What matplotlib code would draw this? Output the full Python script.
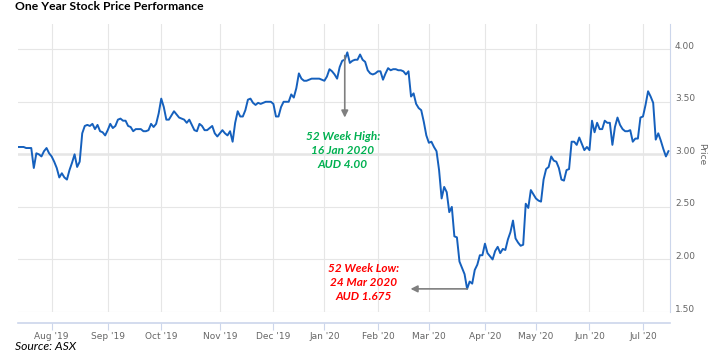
import numpy as np
import matplotlib
matplotlib.use('Agg')
import matplotlib.pyplot as plt
import matplotlib.transforms as mtransforms

# Daily closing price, one value per trading day from mid Jul 2019
prices = [3.07, 3.07, 3.07, 3.06, 3.06, 3.06, 2.87, 3.01, 3.00, 2.98,
          3.03, 3.06, 3.01, 2.98, 2.93, 2.87, 2.78, 2.82, 2.78, 2.76,
          2.85, 2.92, 3.00, 2.88, 2.93, 3.20, 3.27, 3.28, 3.27, 3.29,
          3.24, 3.28, 3.22, 3.21, 3.18, 3.23, 3.29, 3.25, 3.27, 3.33,
          3.34, 3.32, 3.32, 3.27, 3.26, 3.22, 3.24, 3.24, 3.24, 3.22,
          3.22, 3.23, 3.29, 3.26, 3.29, 3.39, 3.53, 3.45, 3.33, 3.33,
          3.37, 3.41, 3.38, 3.35, 3.34, 3.33, 3.30, 3.33, 3.28, 3.23,
          3.22, 3.29, 3.27, 3.23, 3.23, 3.25, 3.27, 3.20, 3.17, 3.20,
          3.23, 3.20, 3.18, 3.22, 3.12, 3.30, 3.41, 3.36, 3.36, 3.42,
          3.52, 3.53, 3.49, 3.47, 3.49, 3.48, 3.49, 3.50, 3.50, 3.50,
          3.48, 3.36, 3.36, 3.45, 3.50, 3.50, 3.50, 3.57, 3.54, 3.63,
          3.77, 3.72, 3.70, 3.70, 3.71, 3.72, 3.72, 3.72, 3.72, 3.71,
          3.70, 3.74, 3.81, 3.79, 3.76, 3.72, 3.83, 3.89, 3.90, 3.97,
          3.87, 3.89, 3.90, 3.90, 3.95, 3.90, 3.88, 3.80, 3.77, 3.76,
          3.77, 3.79, 3.79, 3.71, 3.77, 3.82, 3.80, 3.81, 3.81, 3.80,
          3.80, 3.79, 3.76, 3.79, 3.55, 3.58, 3.48, 3.44, 3.42, 3.31,
          3.18, 3.11, 3.12, 3.07, 3.03, 2.85, 2.58, 2.69, 2.64, 2.45,
          2.50, 2.22, 2.21, 1.98, 1.92, 1.86, 1.72, 1.79, 1.77, 1.90,
          1.95, 2.04, 2.04, 2.15, 2.06, 2.03, 2.00, 2.08, 2.12, 2.06,
          2.10, 2.09, 2.19, 2.26, 2.37, 2.20, 2.16, 2.13, 2.14, 2.53,
          2.49, 2.66, 2.62, 2.58, 2.56, 2.55, 2.76, 2.86, 2.88, 2.98,
          2.94, 2.93, 2.87, 2.76, 2.75, 2.85, 2.86, 3.12, 3.12, 3.09,
          3.16, 3.10, 3.04, 3.07, 3.04, 3.32, 3.21, 3.30, 3.24, 3.24,
          3.32, 3.30, 3.30, 3.09, 3.26, 3.35, 3.28, 3.24, 3.22, 3.22,
          3.23, 3.12, 3.15, 3.15, 3.35, 3.36, 3.47, 3.60, 3.55, 3.49,
          3.14, 3.20, 3.13, 3.05, 2.98, 3.03]
days = np.arange(len(prices))   # trading-day index

month_idx = [13, 35, 56, 79, 100, 120, 141, 161, 183, 203, 224, 245]
month_labels = ["Aug '19", "Sep '19", "Oct '19", "Nov '19", "Dec '19", "Jan '20",
                "Feb '20", "Mar '20", "Apr '20", "May '20", "Jun '20", "Jul '20"]
price_ticks = [1.50, 2.00, 2.50, 3.00, 3.50, 4.00]

high_text = '52 Week High:\n16 Jan 2020\nAUD 4.00'
low_text = '52 Week Low:\n24 Mar 2020\nAUD 1.675'

LINE = '#1560bd'
GRID = '#e6e6e6'
AXIS = '#ccd6eb'
LABEL = '#666666'

fig = plt.figure(figsize=(7.25, 3.56), dpi=100)
ax = fig.add_axes([18/725, 1 - 312/356, (670 - 18)/725, (312 - 24)/356])

ax.plot(days, prices, color=LINE, lw=1.4, zorder=3)

ax.set_xlim(-0.2, 255.6)
ax.set_ylim(1.50, 4.24)

# grid
ax.set_xticks(month_idx)
ax.set_xticklabels(month_labels)
ax.set_yticks(price_ticks)
ax.set_yticklabels(['%.2f' % p for p in price_ticks])
ax.grid(True, color=GRID, lw=0.8, zorder=0)
ax.axhline(3.00, color=GRID, lw=1.8, zorder=1)

for s in ['top', 'left']:
    ax.spines[s].set_visible(False)
ax.spines['right'].set_color(AXIS)
ax.spines['right'].set_linewidth(0.8)
ax.spines['bottom'].set_color(AXIS)
ax.spines['bottom'].set_linewidth(1.2)
ax.spines['bottom'].set_position(('outward', 8))

ax.yaxis.tick_right()
ax.tick_params(axis='y', length=0, pad=3.5, labelsize=6.5, labelcolor=LABEL)
ax.tick_params(axis='x', length=5, width=0.8, color=AXIS, pad=1.5,
               labelsize=6.5, labelcolor=LABEL)

offset = mtransforms.ScaledTranslation(0, 4/100, fig.dpi_scale_trans)
for lab in ax.get_yticklabels():
    lab.set_transform(lab.get_transform() + offset)

fig.text(702/725, 1 - 154/356, 'Price', rotation=270, color=LABEL,
         fontsize=6.5, ha='center', va='center')

# annotations
hi = int(np.argmax(prices))
lo = int(np.argmin(prices))
ax.annotate('', xy=(days[hi] - 1, 3.35), xytext=(days[hi] - 1, prices[hi] - 0.03),
            arrowprops=dict(arrowstyle='-|>', color='#7f7f7f', lw=1.2,
                            mutation_scale=10, shrinkA=0, shrinkB=0), zorder=4)
ax.annotate('', xy=(153.8, prices[lo]), xytext=(days[lo], prices[lo]),
            arrowprops=dict(arrowstyle='-|>', color='#7f7f7f', lw=1.2,
                            mutation_scale=10, shrinkA=0, shrinkB=0), zorder=4)

ax.text(127.3, 3.035, high_text, color='#00b050', fontsize=8.5, family='Lato',
        fontweight='bold', style='italic', ha='center', va='center',
        linespacing=1.35)
ax.text(135.5, 1.779, low_text, color='#ff0000', fontsize=8.5, family='Lato',
        fontweight='bold', style='italic', ha='center', va='center',
        linespacing=1.35)

fig.text(15/725, 1 - 7/356, 'One Year Stock Price Performance', fontsize=8.7,
         family='Lato', fontweight='bold', ha='left', va='center')
fig.text(15/725, 1 - 347/356, 'Source: ASX', fontsize=8.7, family='Lato',
         style='italic', ha='left', va='center')

fig.savefig('out.png', dpi=100)
